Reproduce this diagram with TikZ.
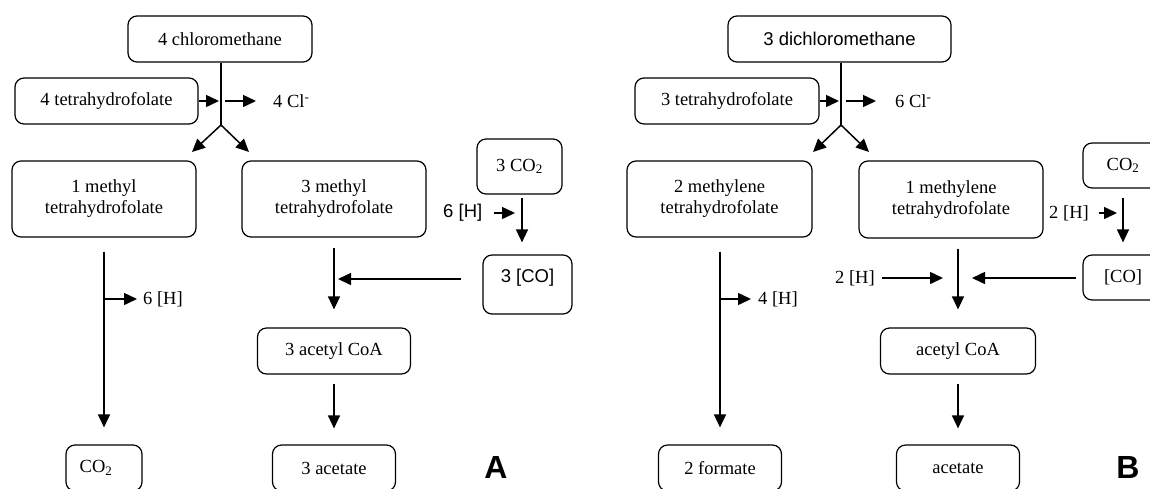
\documentclass[tikz,border=0pt]{standalone}
\usepackage{fontspec}
\setmainfont{Liberation Serif}
\setsansfont{Liberation Sans}
\usetikzlibrary{arrows.meta}

\begin{document}
\begin{tikzpicture}[x=1pt,y=-1pt,
	every node/.style={font=\fontsize{18.5}{21}\selectfont},
	sans/.style={font=\fontsize{18.5}{21}\selectfont\sffamily},
	box/.style={draw,rounded corners=9pt,line width=1.2pt,align=center,inner sep=0pt},
	lbl/.style={inner sep=0pt,anchor=west},
	arr/.style={-{Triangle[length=13pt,width=12pt]},line width=1.5pt},
	ln/.style={line width=1.5pt},
	panel/.style={font=\fontsize{32}{32}\selectfont\sffamily\bfseries}]
			\useasboundingbox (0,0) rectangle (1150,488);
			\clip (0,0) rectangle (1150,488);
			
			%%%%% A %%%%%
			
			\node[box,minimum width=184pt,minimum height=46pt] (chl) at (220,39) {4 chloromethane};
			\node[box,minimum width=183pt,minimum height=46pt] (thfA) at (106.5,101) {4 tetrahydrofolate};
			\node[box,minimum width=184pt,minimum height=76pt] (mA1) at (104,199) {1 methyl\\tetrahydrofolate};
			\node[box,minimum width=184pt,minimum height=76pt] (mA3) at (334,199) {3 methyl\\tetrahydrofolate};
			\node[box,minimum width=85pt,minimum height=55pt] (co2A) at (519.5,166.5) {3 CO\textsubscript{2}};
			\node[box,minimum width=89pt,minimum height=59pt] (coA) at (527.5,284.5) {\raisebox{7pt}[\height][\depth]{\sffamily 3 [CO]}};
			\node[box,minimum width=153pt,minimum height=46pt] (acA) at (334,351) {3 acetyl CoA};
			\node[box,minimum width=76pt,minimum height=46pt] (co2Ab) at (104,468) {CO\textsubscript{2}\hspace{16pt}};
			\node[box,minimum width=123pt,minimum height=46pt] (actA) at (334,468) {3 acetate};
			\node[panel] (labA) at (496,467) {A};
			
			\node[lbl] (clA) at (273,101) {4 Cl\textsuperscript{-}};
			\node[lbl,sans] (hA1) at (443,213) {6 [H]};
			\node[lbl] (hA2) at (143,299) {6 [H]};
			
			\coordinate (sA) at (221,125);
			\coordinate (dA1) at (192,152);
			\coordinate (dA2) at (249,152);
			\coordinate (tA) at (219,101);
			\coordinate (oA) at (225,101);
			\coordinate (bA) at (104,299);
			\coordinate (jA) at (338,279);
			\coordinate (vA) at (522,198);
			
			\draw[ln] (chl.south -| sA) -- (sA);
			\draw[arr] (sA) -- (dA1);
			\draw[arr] (sA) -- (dA2);
			\draw[arr] (thfA.east) -- (tA);
			\draw[arr] (oA) -- ([xshift=-17pt]clA.west |- oA);
			
			\draw[arr,shorten <=14pt,shorten >=17pt] (mA1.south) -- (co2Ab.north);
			\draw[arr,shorten >=6pt] (bA) -- (hA2.west |- bA);
			
			\draw[arr,shorten <=10pt,shorten >=18pt] (mA3.south) -- (acA.north);
			\draw[arr,shorten <=21pt] (coA.west |- jA) -- (jA);
			\draw[arr,shorten >=12pt] (vA) -- (vA |- coA.north);
			\draw[arr,shorten <=12pt,shorten >=7pt] (hA1.east) -- (vA |- hA1.east);
			\draw[arr,shorten <=9pt,shorten >=16pt] (acA.south) -- (actA.north);
			
			%%%%% B %%%%%
			
			\node[box,sans,minimum width=223pt,minimum height=46pt] (dcm) at (839.5,39) {3 dichloromethane};
			\node[box,minimum width=184pt,minimum height=46pt] (thfB) at (727,101) {3 tetrahydrofolate};
			\node[box,minimum width=185pt,minimum height=76pt] (mB2) at (719.5,199) {2 methylene\\tetrahydrofolate};
			\node[box,minimum width=184pt,minimum height=77pt] (mB1) at (951,199.5) {1 methylene\\tetrahydrofolate};
			\node[box,minimum width=80pt,minimum height=45pt] (co2B) at (1123,165.5) {CO\textsubscript{2}};
			\node[box,minimum width=80pt,minimum height=45pt] (coB) at (1123,277.5) {[CO]};
			\node[box,minimum width=155pt,minimum height=46pt] (acB) at (958,351) {acetyl CoA};
			\node[box,minimum width=123pt,minimum height=46pt] (frm) at (720,468) {2 formate};
			\node[box,minimum width=123pt,minimum height=46pt] (actB) at (958,468) {acetate};
			\node[panel] (labB) at (1128,467) {B};
			
			\node[lbl] (clB) at (895,101) {6 Cl\textsuperscript{-}};
			\node[lbl] (hB1) at (1049,213) {2 [H]};
			\node[lbl] (hB2) at (835,278) {2 [H]};
			\node[lbl] (hB3) at (758,299) {4 [H]};
			
			\coordinate (sB) at (841,125);
			\coordinate (dB1) at (813,152);
			\coordinate (dB2) at (869,152);
			\coordinate (tB) at (839,101);
			\coordinate (oB) at (846,101);
			\coordinate (bB) at (720,299);
			\coordinate (jB) at (972,278);
			\coordinate (jB2) at (943,278);
			
			\draw[ln] (dcm.south -| sB) -- (sB);
			\draw[arr] (sB) -- (dB1);
			\draw[arr] (sB) -- (dB2);
			\draw[arr] (thfB.east) -- (tB);
			\draw[arr] (oB) -- ([xshift=-19pt]clB.west |- oB);
			
			\draw[arr,shorten <=14pt,shorten >=17pt] (mB2.south -| frm.north) -- (frm.north);
			\draw[arr,shorten >=7pt] (bB) -- (hB3.west |- bB);
			
			\draw[arr,shorten <=10pt,shorten >=18pt] (acB.north |- mB1.south) -- (acB.north);
			\draw[arr,shorten <=6pt] (coB.west |- jB) -- (jB);
			\draw[arr,shorten <=7pt] (hB2.east |- jB2) -- (jB2);
			\draw[arr,shorten <=9pt,shorten >=12pt] (co2B.south) -- (coB.north);
			\draw[arr,shorten <=10pt,shorten >=6pt] (hB1.east) -- (co2B.south |- hB1.east);
			\draw[arr,shorten <=9pt,shorten >=16pt] (acB.south) -- (actB.north);
			
			%%%%% END %%%%%
		\end{tikzpicture}
\end{document}
